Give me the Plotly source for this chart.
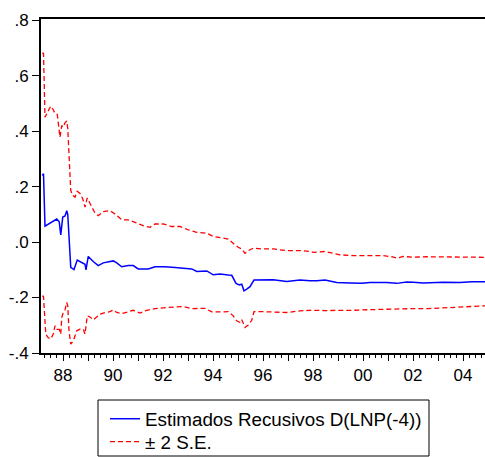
import plotly.graph_objects as go

# Recursive estimate D(LNP(-4)) -- time (fractional year) and value
est_t = [1987.17, 1987.22, 1987.28, 1987.40, 1987.61, 1987.75, 1987.85, 1987.91, 1987.99, 1988.08,
         1988.15, 1988.19, 1988.31, 1988.44, 1988.57, 1988.75, 1988.88, 1988.92, 1989.01, 1989.21,
         1989.41, 1989.61, 1989.81, 1990.01, 1990.15, 1990.35, 1990.61, 1990.81, 1991.01, 1991.41,
         1991.68, 1992.08, 1992.48, 1992.88, 1993.15, 1993.35, 1993.75, 1994.01, 1994.28, 1994.61,
         1994.75, 1994.92, 1995.05, 1995.15, 1995.24, 1995.35, 1995.48, 1995.64, 1995.88, 1996.41,
         1996.95, 1997.48, 1997.88, 1998.15, 1998.48, 1998.68, 1998.95, 1999.48, 1999.95, 2000.28,
         2000.95, 2001.35, 2001.75, 2002.01, 2002.41, 2003.21, 2003.88, 2004.35, 2004.88]
est_v = [0.240, 0.246, 0.057, 0.063, 0.074, 0.083, 0.073, 0.026, 0.090, 0.094,
         0.113, 0.100, -0.091, -0.099, -0.065, -0.075, -0.080, -0.100, -0.052, -0.070,
         -0.085, -0.075, -0.072, -0.068, -0.075, -0.089, -0.085, -0.085, -0.097, -0.097,
         -0.089, -0.089, -0.092, -0.094, -0.097, -0.106, -0.104, -0.118, -0.115, -0.119,
         -0.120, -0.149, -0.155, -0.152, -0.176, -0.170, -0.161, -0.137, -0.137, -0.136,
         -0.142, -0.137, -0.140, -0.140, -0.137, -0.140, -0.146, -0.148, -0.149, -0.146,
         -0.146, -0.149, -0.144, -0.145, -0.148, -0.145, -0.146, -0.143, -0.143]

# Upper band (+2 S.E.)
up_t = [1987.17, 1987.22, 1987.28, 1987.41, 1987.51, 1987.61, 1987.68, 1987.77, 1987.88, 1987.95,
        1988.01, 1988.08, 1988.15, 1988.19, 1988.31, 1988.39, 1988.48, 1988.57, 1988.68, 1988.79,
        1988.88, 1988.97, 1989.05, 1989.15, 1989.28, 1989.41, 1989.61, 1989.88, 1990.08, 1990.35,
        1990.61, 1990.88, 1991.21, 1991.48, 1991.68, 1992.01, 1992.35, 1992.68, 1993.01, 1993.35,
        1993.75, 1994.01, 1994.35, 1994.61, 1994.84, 1995.01, 1995.15, 1995.28, 1995.41, 1995.61,
        1996.01, 1996.41, 1996.95, 1997.48, 1997.88, 1998.01, 1998.48, 1998.75, 1999.08, 1999.61,
        2000.15, 2000.81, 2001.15, 2001.35, 2001.61, 2002.01, 2002.55, 2003.08, 2003.75, 2004.41,
        2004.88]
up_v = [0.682, 0.680, 0.450, 0.475, 0.490, 0.477, 0.463, 0.460, 0.378, 0.420,
        0.414, 0.430, 0.436, 0.410, 0.186, 0.168, 0.162, 0.183, 0.175, 0.156,
        0.126, 0.159, 0.146, 0.126, 0.104, 0.095, 0.110, 0.113, 0.101, 0.080,
        0.080, 0.071, 0.059, 0.053, 0.065, 0.065, 0.056, 0.056, 0.044, 0.035,
        0.032, 0.020, 0.015, 0.011, -0.007, -0.019, -0.025, -0.041, -0.031, -0.022,
        -0.025, -0.025, -0.031, -0.031, -0.034, -0.037, -0.034, -0.040, -0.046, -0.049,
        -0.049, -0.049, -0.053, -0.058, -0.052, -0.055, -0.053, -0.053, -0.055, -0.055,
        -0.055]

# Lower band (-2 S.E.)
lo_t = [1987.17, 1987.22, 1987.31, 1987.41, 1987.51, 1987.61, 1987.68, 1987.75, 1987.85, 1987.91,
        1987.95, 1988.01, 1988.08, 1988.15, 1988.19, 1988.24, 1988.31, 1988.41, 1988.55, 1988.68,
        1988.81, 1988.88, 1988.97, 1989.11, 1989.21, 1989.35, 1989.48, 1989.68, 1989.88, 1990.01,
        1990.15, 1990.35, 1990.55, 1990.81, 1991.08, 1991.35, 1991.68, 1992.08, 1992.48, 1992.81,
        1993.15, 1993.68, 1993.95, 1994.35, 1994.61, 1994.81, 1994.95, 1995.08, 1995.15, 1995.28,
        1995.41, 1995.55, 1995.64, 1996.01, 1996.41, 1996.95, 1997.48, 1997.88, 1998.50, 1999.00,
        1999.60, 2000.20, 2000.90, 2001.40, 2002.00, 2002.60, 2003.20, 2003.90, 2004.40, 2004.88]
lo_v = [-0.194, -0.196, -0.332, -0.345, -0.349, -0.332, -0.302, -0.315, -0.315, -0.332,
        -0.272, -0.254, -0.245, -0.218, -0.230, -0.320, -0.368, -0.356, -0.320, -0.314,
        -0.314, -0.332, -0.266, -0.272, -0.281, -0.270, -0.260, -0.254, -0.251, -0.245,
        -0.254, -0.258, -0.252, -0.246, -0.256, -0.246, -0.240, -0.236, -0.234, -0.233,
        -0.240, -0.239, -0.252, -0.252, -0.251, -0.266, -0.284, -0.290, -0.280, -0.308,
        -0.299, -0.282, -0.251, -0.251, -0.252, -0.254, -0.248, -0.246, -0.247, -0.247,
        -0.246, -0.244, -0.242, -0.243, -0.240, -0.240, -0.237, -0.235, -0.232, -0.230]

year_ticks = list(range(1988, 2005))
year_labels = [f"{y % 100:02d}" if y % 2 == 0 else "" for y in year_ticks]
y_ticks = [-0.4, -0.2, 0.0, 0.2, 0.4, 0.6, 0.8]
y_labels = ["-.4", "-.2", ".0", ".2", ".4", ".6", ".8"]

FONT = "Liberation Sans, Arial, sans-serif"

# full window; the page body margin is removed below
W, H = 485, 457
ML, MT, MB = 41, 19, 104
PW, PH = W - ML, H - MT - MB


def px_x(x):  # window pixel -> paper x
    return (x - ML) / PW


def px_y(y):  # window pixel -> paper y
    return (H - MB - y) / PH


fig = go.Figure()
fig.add_trace(go.Scatter(x=est_t, y=est_v, mode="lines",
                         name="Estimados Recusivos D(LNP(-4))", legend="legend",
                         line=dict(color="#0000ff", width=1.5)))
fig.add_trace(go.Scatter(x=up_t, y=up_v, mode="lines", name="± 2 S.E.", legend="legend2",
                         line=dict(color="#ff0000", width=1.3, dash="5px,3px")))
fig.add_trace(go.Scatter(x=lo_t, y=lo_v, mode="lines", name="± 2 S.E.", showlegend=False,
                         legend="legend2",
                         line=dict(color="#ff0000", width=1.3, dash="5px,3px")))

leg_common = dict(xref="container", yref="container", xanchor="left", yanchor="middle",
                  borderwidth=0, bgcolor="rgba(0,0,0,0)",
                  font=dict(family=FONT, size=18.8, color="black"), itemwidth=30)

fig.update_layout(
    width=W, height=H,
    margin=dict(l=ML, r=0, t=MT, b=MB, autoexpand=False),
    paper_bgcolor="white", plot_bgcolor="white",
    font=dict(family=FONT, size=17, color="black"),
    showlegend=True,
    legend=dict(x=105 / W, y=1 - 419 / H, **leg_common),
    legend2=dict(x=105 / W, y=1 - 442 / H, **leg_common),
    shapes=[dict(type="rect", xref="paper", yref="paper",
                 x0=px_x(98), x1=px_x(429), y0=px_y(456), y1=px_y(400),
                 line=dict(color="black", width=1), fillcolor="rgba(0,0,0,0)",
                 layer="above")],
    xaxis=dict(range=[1987.12, 2004.88], tickmode="array", tickvals=year_ticks,
               ticktext=year_labels, ticks="outside", ticklen=6, tickwidth=1,
               tickcolor="black", showgrid=False, zeroline=False, automargin=False,
               showline=True, linecolor="black", linewidth=2, mirror=True,
               tickfont=dict(size=17),
               minor=dict(tickmode="linear", tick0=1988, dtick=0.25, ticks="outside",
                          ticklen=3, tickwidth=1, tickcolor="black", showgrid=False)),
    yaxis=dict(range=[-0.4, 0.804], tickmode="array", tickvals=y_ticks, ticktext=y_labels,
               ticks="outside", ticklen=7, tickwidth=1, tickcolor="black",
               tickfont=dict(size=17), automargin=False,
               showgrid=False, zeroline=False, showline=True, linecolor="black",
               linewidth=2, mirror=False),
)

# place the figure at the window's top-left corner, without scrollbars or modebar
fig.write_html("out.html",
               config={"displayModeBar": False},
               post_script="document.body.style.margin='0';"
                           "document.documentElement.style.overflow='hidden';")
